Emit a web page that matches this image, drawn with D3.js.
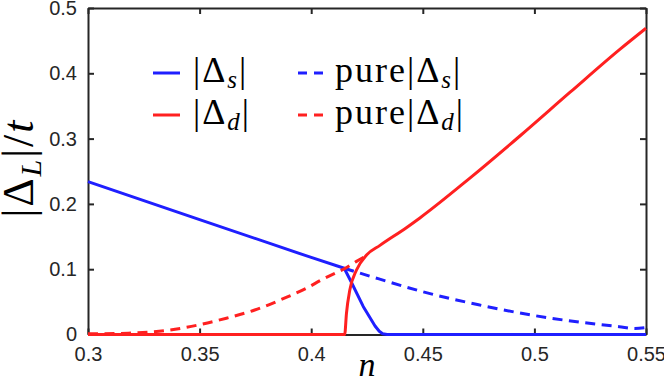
<!DOCTYPE html>
<html>
<head>
<meta charset="utf-8">
<script src="https://cdn.jsdelivr.net/npm/d3@7"></script>
<style>
	body { margin: 0; background: #fff; }
	svg { display: block; }
	.serif { font-family: "Liberation Serif", "DejaVu Serif", "Times New Roman", Times, serif; }
	.sans { font-family: "Liberation Sans", Arial, Helvetica, sans-serif; }
</style>
</head>
<body>
<div id="chart"></div>
<script>
'use strict';

// tick labels
var xTicks = [0.3, 0.35, 0.4, 0.45, 0.5, 0.55];
var yTicks = [0, 0.1, 0.2, 0.3, 0.4, 0.5];

// |Delta_s| (solid blue)
var nS = [0.30, 0.35, 0.40, 0.4148, 0.418, 0.4233, 0.4286, 0.4305, 0.432, 0.434, 0.45, 0.50, 0.55];
var deltaS = [0.234, 0.176, 0.118, 0.1014, 0.080, 0.043, 0.013, 0.005, 0.0012, 0, 0, 0, 0];

// |Delta_d| (solid red)
var nD = [0.30, 0.415, 0.4158, 0.4173, 0.4203, 0.4248, 0.4308, 0.4428, 0.4487, 0.4711, 0.4935, 0.516, 0.5384, 0.55];
var deltaD = [0, 0, 0.0325, 0.068, 0.0988, 0.1217, 0.1365, 0.164, 0.1785, 0.2395, 0.304, 0.371, 0.437, 0.469];

// pure |Delta_s| (dashed blue)
var nPureS = [0.4148, 0.43, 0.45, 0.475, 0.50, 0.52, 0.538, 0.545, 0.55];
var pureS = [0.1014, 0.0855, 0.0655, 0.0455, 0.029, 0.019, 0.012, 0.009, 0.0105];

// pure |Delta_d| (dashed red)
var nPureD = [0.30, 0.318, 0.335, 0.3493, 0.362, 0.3747, 0.3896, 0.398, 0.4045, 0.412, 0.4148, 0.4203, 0.4255];
var pureD = [0.001, 0.002, 0.006, 0.0145, 0.025, 0.0375, 0.058, 0.071, 0.0835, 0.096, 0.1005, 0.112, 0.122];

var blue = '#1f1fff', red = '#ff2020', ink = '#262626';

var width = 664, height = 381;
var plotLeft = 88, plotRight = 646, plotTop = 8, plotBottom = 334.5;

var svg = d3.select('#chart').append('svg')
	.attr('width', width)
	.attr('height', height);

var xScale = d3.scaleLinear().domain([0.3, 0.55]).range([plotLeft, plotRight]);
var yScale = d3.scaleLinear().domain([0, 0.5]).range([plotBottom, plotTop]);

// box + inward ticks on all four sides
var axes = svg.append('g').attr('class', 'axes');
var tick = 6;

axes.append('g')
	.attr('transform', 'translate(0,' + plotBottom + ')')
	.call(d3.axisBottom(xScale).tickValues(xTicks).tickSizeInner(-tick).tickSizeOuter(0).tickPadding(12)
		.tickFormat(function(d) { return String(+d.toFixed(2)); }));
axes.append('g')
	.attr('transform', 'translate(0,' + plotTop + ')')
	.call(d3.axisTop(xScale).tickValues(xTicks).tickSizeInner(-tick).tickSizeOuter(0).tickFormat(''));
axes.append('g')
	.attr('transform', 'translate(' + plotLeft + ',0)')
	.call(d3.axisLeft(yScale).tickValues(yTicks).tickSizeInner(-tick).tickSizeOuter(0).tickPadding(11)
		.tickFormat(function(d) { return String(+d.toFixed(1)); }));
axes.append('g')
	.attr('transform', 'translate(' + plotRight + ',0)')
	.call(d3.axisRight(yScale).tickValues(yTicks).tickSizeInner(-tick).tickSizeOuter(0).tickFormat(''));

// d3 axis sets font-family on the group, drop it so the css class wins
axes.selectAll('g').attr('font-family', null).attr('font-size', null);
axes.selectAll('.domain').attr('stroke', ink).attr('stroke-width', 2);
axes.selectAll('.tick line').attr('stroke', ink).attr('stroke-width', 2);
axes.selectAll('.tick text')
	.attr('class', 'sans')
	.attr('fill', ink)
	.style('font-size', '20px');

// series
var makeLine = function(curve) {
	return d3.line()
		.x(function(d) { return xScale(d[0]); })
		.y(function(d) { return yScale(d[1]); })
		.curve(curve);
};

var series = [
	{ x: nS, y: deltaS, color: blue, dash: null, curve: d3.curveLinear },
	{ x: nPureS, y: pureS, color: blue, dash: '10,6.5', curve: d3.curveMonotoneX },
	{ x: nPureD, y: pureD, color: red, dash: '10,6.5', curve: d3.curveMonotoneX },
	{ x: nD, y: deltaD, color: red, dash: null, curve: d3.curveMonotoneX }
];

svg.append('g').attr('class', 'data')
	.selectAll('path').data(series)
	.enter()
	.append('path')
	.attr('d', function(s) { return makeLine(s.curve)(d3.zip(s.x, s.y)); })
	.attr('fill', 'none')
	.attr('stroke', function(s) { return s.color; })
	.attr('stroke-width', 3)
	.attr('stroke-linejoin', 'round')
	.attr('stroke-dasharray', function(s) { return s.dash; });

// legend
var legendItems = [
	{ pre: '', sub: 's', color: blue, dash: null, x: 153, y: 73 },
	{ pre: 'pure', sub: 's', color: blue, dash: '9,7', x: 298, y: 73 },
	{ pre: '', sub: 'd', color: red, dash: null, x: 153, y: 115 },
	{ pre: 'pure', sub: 'd', color: red, dash: '9,7', x: 298, y: 115 }
];

var legend = svg.append('g').attr('class', 'legend');
legendItems.forEach(function(item) {
	legend.append('line')
		.attr('x1', item.x).attr('x2', item.x + 27)
		.attr('y1', item.y).attr('y2', item.y)
		.attr('stroke', item.color)
		.attr('stroke-width', 3)
		.attr('stroke-dasharray', item.dash);

	var t = legend.append('text')
		.attr('class', 'serif')
		.attr('x', item.x + (item.pre ? 37 : 40))
		.attr('y', item.y + 9)
		.attr('fill', '#000')
		.style('font-size', '36px')
		.style('letter-spacing', '2px');
	t.append('tspan').text(item.pre + '|\u0394');
	t.append('tspan')
		.attr('dy', 6)
		.style('font-size', '25px')
		.style('font-style', 'italic')
		.text(item.sub);
	t.append('tspan').attr('dy', -6).text('|');
});

// axis labels
svg.append('text')
	.attr('class', 'serif')
	.attr('x', (plotLeft + plotRight) / 2)
	.attr('y', 376)
	.attr('text-anchor', 'middle')
	.attr('fill', '#000')
	.style('font-size', '34px')
	.style('font-style', 'italic')
	.text('n');

var yLabel = svg.append('text')
	.attr('class', 'serif')
	.attr('transform', 'translate(33,168) rotate(-90)')
	.attr('text-anchor', 'middle')
	.attr('fill', '#000')
	.style('font-size', '44px')
	.style('letter-spacing', '2px');
yLabel.append('tspan').text('|\u0394');
yLabel.append('tspan')
	.attr('dy', 8)
	.style('font-size', '30px')
	.style('font-style', 'italic')
	.text('L');
yLabel.append('tspan').attr('dy', -8).text('|/');
yLabel.append('tspan').style('font-style', 'italic').text('t');
</script>
</body>
</html>
